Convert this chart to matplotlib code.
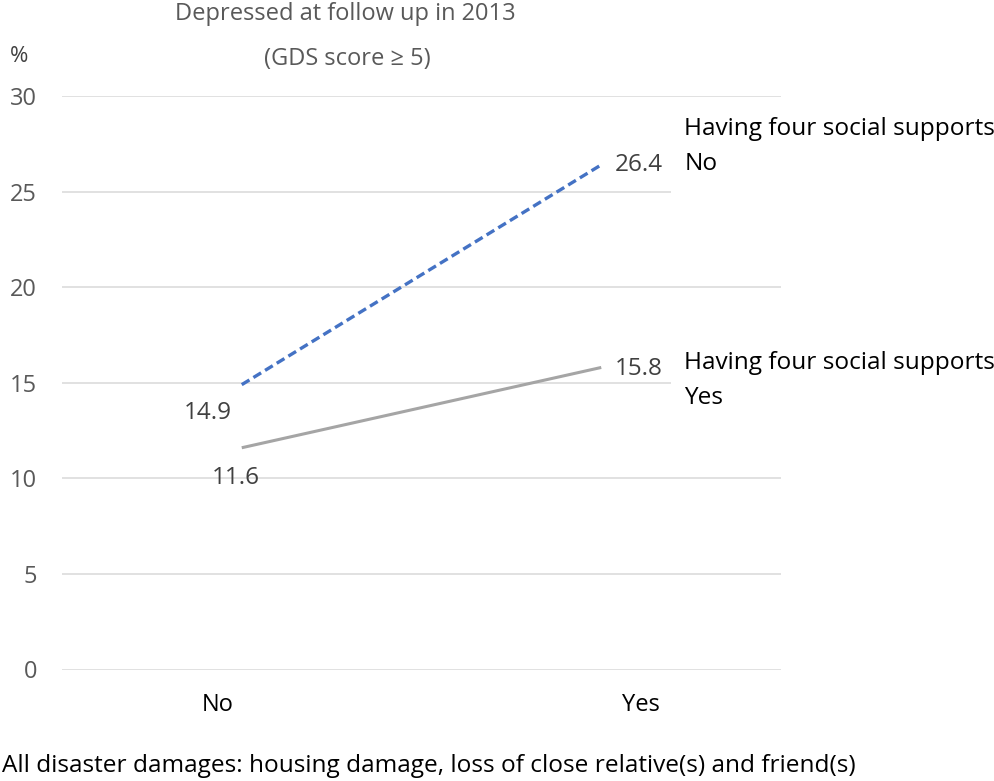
import numpy as np
import matplotlib.pyplot as plt
from matplotlib.path import Path
from matplotlib.transforms import ScaledTranslation

plt.rcParams['font.family'] = ['Open Sans', 'DejaVu Sans']

# values
categories = ["No", "Yes"]
support_no = [14.9, 26.4]
support_yes = [11.6, 15.8]
series_labels = ["Having four social supports\nNo", "Having four social supports\nYes"]
yticks = [0, 5, 10, 15, 20, 25, 30]
title_lines = ["Depressed at follow up in 2013", "(GDS score \u2265 5)"]
caption = "All disaster damages: housing damage, loss of close relative(s) and friend(s)"


def text_box(x0, y0, width, height, mutation_size):
    # white box like an excel label: hangs mostly below the text
    left = x0 - 0.55 * mutation_size
    right = x0 + width + 0.5 * mutation_size
    bottom = y0 - 0.75 * mutation_size
    top = y0 + height + 0.2 * mutation_size
    return Path([(left, bottom), (right, bottom), (right, top), (left, top), (left, bottom)], closed=True)


W, H = 995, 781
fig = plt.figure(figsize=(W / 100, H / 100), dpi=100)
ax = fig.add_axes([62 / W, 1 - 669.5 / H, (781 - 62) / W, (669.5 - 96) / H])

x = np.arange(len(categories))
ax.plot(x, support_no, color='#4472C4', lw=2.4, ls=(0, (2.7, 1.4)), solid_capstyle='butt')
ax.plot(x, support_yes, color='#A5A5A5', lw=2.2, solid_capstyle='butt')

ax.set_xlim(-0.5, 1.5)
ax.set_ylim(0, 30)
ax.set_yticks(yticks)
ax.set_xticks(x, categories)
for s in ax.spines.values():
    s.set_visible(False)
ax.yaxis.grid(True, color='#D9D9D9', lw=1.1)
ax.set_axisbelow(True)
ax.tick_params(axis='both', length=0, labelsize=17, labelcolor='#595959')
ax.tick_params(axis='y', pad=18)
ax.tick_params(axis='x', pad=17, labelcolor='black')

# shift category labels like the original
for lab, dx in zip(ax.get_xticklabels(), [-24, 40]):
    lab.set_transform(lab.get_transform() + ScaledTranslation(dx / 100, 0, fig.dpi_scale_trans))

# data labels
off_no = [(-34, -28), (14, 0)]
off_yes = [(-6, -30), (14, -2)]
for vals, offs in [(support_no, off_no), (support_yes, off_yes)]:
    for xi, v, (dx, dy) in zip(x, vals, offs):
        ax.annotate(f"{v:.1f}", (xi, v), xytext=(dx, dy), textcoords='offset pixels',
                    ha='left' if xi == 1 else 'center', va='center',
                    fontsize=17.5, color='#404040', annotation_clip=False)

# series names at the right end
for name, vals, dy in [(series_labels[0], support_no, 48), (series_labels[1], support_yes, 16)]:
    ax.annotate(name, (x[-1], vals[-1]),
                xytext=(83, dy), textcoords='offset pixels', ha='left', va='top',
                fontsize=17.6, color='black', linespacing=1.6, annotation_clip=False,
                bbox=dict(boxstyle=text_box, fc='white', ec='none'))

fig.text(345 / W, 1 - 20 / H, title_lines[0], ha='center', va='baseline', fontsize=17, color='#595959')
fig.text(347 / W, 1 - 65 / H, title_lines[1], ha='center', va='baseline', fontsize=17, color='#595959')
fig.text(10 / W, 1 - 62 / H, "%", ha='left', va='baseline', fontsize=16, color='#404040')
fig.text(2 / W, 1 - 772 / H, caption, ha='left', va='baseline', fontsize=17.6, color='black')

fig.savefig("out.png", dpi=100)
